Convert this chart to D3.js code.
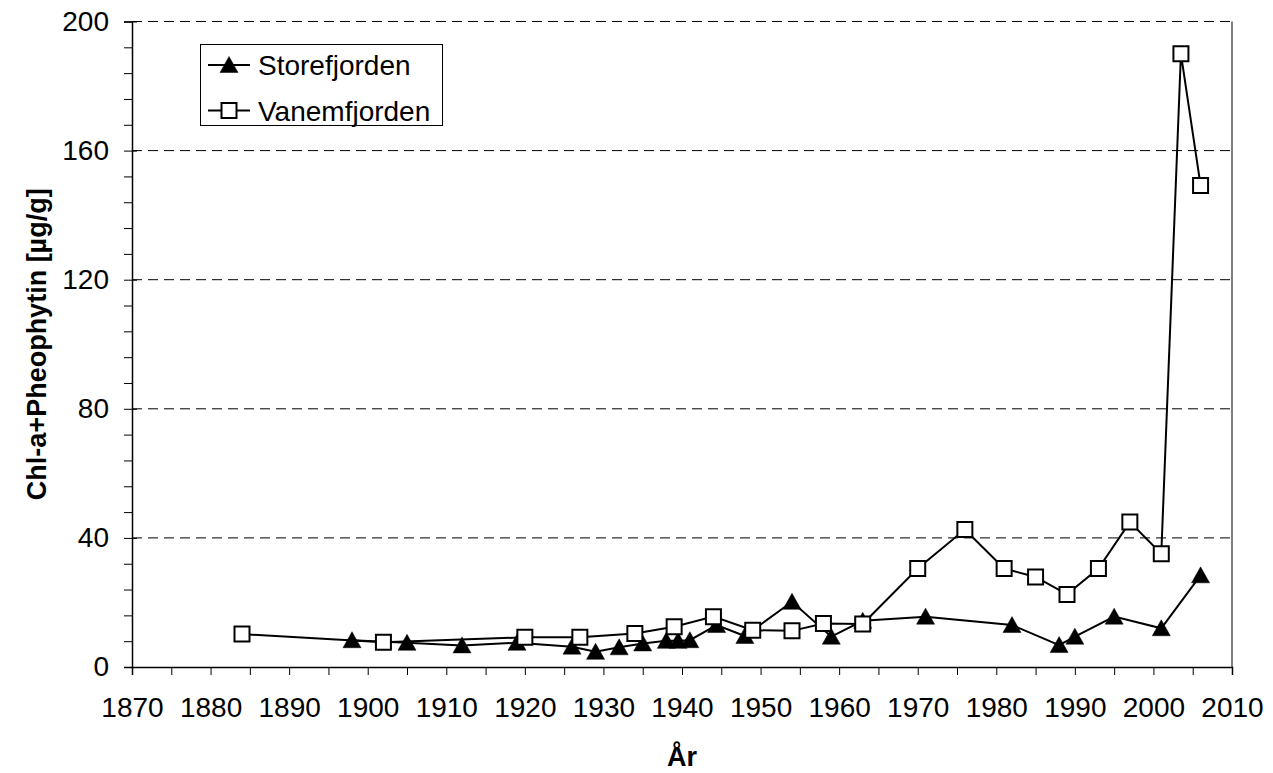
<!DOCTYPE html>
<html>
<head>
<meta charset="utf-8">
<script src="https://cdn.jsdelivr.net/npm/d3@7"></script>
<style>
  body { margin: 0; background: #fff; }
  text { font-family: "Liberation Sans", Arial, sans-serif; }
</style>
</head>
<body>
<div id="chart"></div>
<script>
// Storefjorden (filled triangles)
var storeYears = [1898, 1905, 1912, 1919, 1926, 1929, 1932, 1935, 1938, 1939.5, 1941, 1944.4, 1948, 1954, 1959, 1963, 1971, 1982, 1988, 1990, 1995, 2001, 2006];
var storeValues = [8.3, 7.5, 6.7, 7.5, 6.3, 4.7, 6.1, 7.3, 8.1, 8.1, 8.3, 13.0, 9.6, 20.2, 9.4, 14.3, 15.6, 13.0, 6.8, 9.4, 15.6, 12.0, 28.4];

// Vanemfjorden (open squares)
var vanemYears = [1884, 1902, 1920, 1927, 1934, 1939, 1944, 1949, 1954, 1958, 1963, 1970, 1976, 1981, 1985, 1989, 1993, 1997, 2001, 2003.5, 2006];
var vanemValues = [10.2, 7.7, 9.2, 9.2, 10.4, 12.5, 15.6, 11.4, 11.2, 13.5, 13.3, 30.5, 42.6, 30.5, 27.9, 22.5, 30.5, 44.9, 35.1, 190.0, 149.2];

var xTicks = [1870, 1880, 1890, 1900, 1910, 1920, 1930, 1940, 1950, 1960, 1970, 1980, 1990, 2000, 2010];
var yTicks = [0, 40, 80, 120, 160, 200];
var seriesNames = ["Storefjorden", "Vanemfjorden"];
var xTitle = "År";
var yTitle = "Chl-a+Pheophytin [µg/g]";

var width = 1273, height = 773;
var plotLeft = 132, plotRight = 1232, plotTop = 21.5, plotBottom = 667;

var svg = d3.select("#chart").append("svg")
    .attr("width", width)
    .attr("height", height);

var x = d3.scaleLinear().domain([1870, 2010]).range([plotLeft, plotRight]);
var y = d3.scaleLinear().domain([0, 200]).range([plotBottom, plotTop]);

// dashed gridlines
svg.append("g").selectAll("line")
    .data(yTicks.filter(function(d){ return d > 0; }))
    .enter().append("line")
    .attr("x1", plotLeft).attr("x2", plotRight)
    .attr("y1", function(d){ return y(d); })
    .attr("y2", function(d){ return y(d); })
    .attr("stroke", "#000")
    .attr("stroke-width", 1)
    .attr("stroke-dasharray", "10,6");

// right border of the plot area
svg.append("line")
    .attr("x1", plotRight).attr("x2", plotRight)
    .attr("y1", plotTop).attr("y2", plotBottom)
    .attr("stroke", "#808080")
    .attr("stroke-width", 2);

// y axis: minor ticks every 8, labels every 40
var yAxis = svg.append("g").attr("transform", "translate(" + plotLeft + ",0)");
yAxis.call(d3.axisLeft(y).tickValues(d3.range(0, 201, 8)).tickSize(8).tickFormat(""));
yAxis.select(".domain").attr("stroke", "#000").attr("stroke-width", 1.5);
yAxis.selectAll(".tick line").attr("stroke", "#000").attr("stroke-width", 1);

var yLabels = svg.append("g").attr("transform", "translate(" + plotLeft + ",0)");
yLabels.call(d3.axisLeft(y).tickValues(yTicks).tickSize(10).tickPadding(13));
yLabels.select(".domain").remove();
yLabels.selectAll(".tick line").attr("stroke", "#000").attr("x2", 5);
yLabels.selectAll(".tick text")
    .attr("fill", "#000")
    .style("font-size", "28px")
    .style("font-family", "'Liberation Sans', Arial, sans-serif");

// x axis: ticks every 5 years, labels every 10
var xAxis = svg.append("g").attr("transform", "translate(0," + plotBottom + ")");
xAxis.call(d3.axisBottom(x).tickValues(d3.range(1870, 2011, 5)).tickSize(8).tickFormat(""));
xAxis.select(".domain").attr("stroke", "#000").attr("stroke-width", 1.5);
xAxis.selectAll(".tick line").attr("stroke", "#000");

var xLabels = svg.append("g").attr("transform", "translate(0," + plotBottom + ")");
xLabels.call(d3.axisBottom(x).tickValues(xTicks).tickSize(0).tickPadding(30).tickFormat(d3.format("d")));
xLabels.select(".domain").remove();
xLabels.selectAll(".tick text")
    .attr("fill", "#000")
    .style("font-size", "28px")
    .style("font-family", "'Liberation Sans', Arial, sans-serif");

// axis titles
svg.append("text")
    .attr("x", (plotLeft + plotRight) / 2)
    .attr("y", 766)
    .attr("text-anchor", "middle")
    .style("font-size", "27px")
    .style("font-weight", "bold")
    .text(xTitle);

svg.append("text")
    .attr("transform", "translate(46," + ((plotTop + plotBottom) / 2) + ") rotate(-90)")
    .attr("text-anchor", "middle")
    .style("font-size", "27px")
    .style("font-weight", "bold")
    .text(yTitle);

// markers
var triPath = "M0,-8.5L9,7.5L-9,7.5Z";
var sqPath = "M-7.5,-7.5H7.5V7.5H-7.5Z";

var line = d3.line()
    .x(function(d){ return x(d[0]); })
    .y(function(d){ return y(d[1]); });

function drawSeries(years, values, shape, fill) {
    var pts = years.map(function(yr, i){ return [yr, values[i]]; });
    var g = svg.append("g");
    g.append("path")
        .datum(pts)
        .attr("fill", "none")
        .attr("stroke", "#000")
        .attr("stroke-width", 2)
        .attr("d", line);
    g.selectAll("path.mark")
        .data(pts)
        .enter().append("path")
        .attr("class", "mark")
        .attr("d", shape)
        .attr("transform", function(d){ return "translate(" + x(d[0]) + "," + y(d[1]) + ")"; })
        .attr("fill", fill)
        .attr("stroke", "#000")
        .attr("stroke-width", fill === "#000" ? 0.5 : 2);
}

drawSeries(storeYears, storeValues, triPath, "#000");
drawSeries(vanemYears, vanemValues, sqPath, "#fff");

// legend
var legend = svg.append("g");
legend.append("rect")
    .attr("x", 200.5).attr("y", 44.5)
    .attr("width", 242).attr("height", 81)
    .attr("fill", "#fff")
    .attr("stroke", "#000")
    .attr("stroke-width", 1);

var shapes = [triPath, sqPath], fills = ["#000", "#fff"];
seriesNames.forEach(function(name, i) {
    var cy = 65 + i * 45.5;
    legend.append("line")
        .attr("x1", 208).attr("x2", 250)
        .attr("y1", cy).attr("y2", cy)
        .attr("stroke", "#000").attr("stroke-width", 2);
    legend.append("path")
        .attr("d", shapes[i])
        .attr("transform", "translate(229," + cy + ")")
        .attr("fill", fills[i])
        .attr("stroke", "#000")
        .attr("stroke-width", i === 0 ? 0.5 : 2);
    legend.append("text")
        .attr("x", 258)
        .attr("y", cy + 10)
        .style("font-size", "28px")
        .text(name);
});
</script>
</body>
</html>
